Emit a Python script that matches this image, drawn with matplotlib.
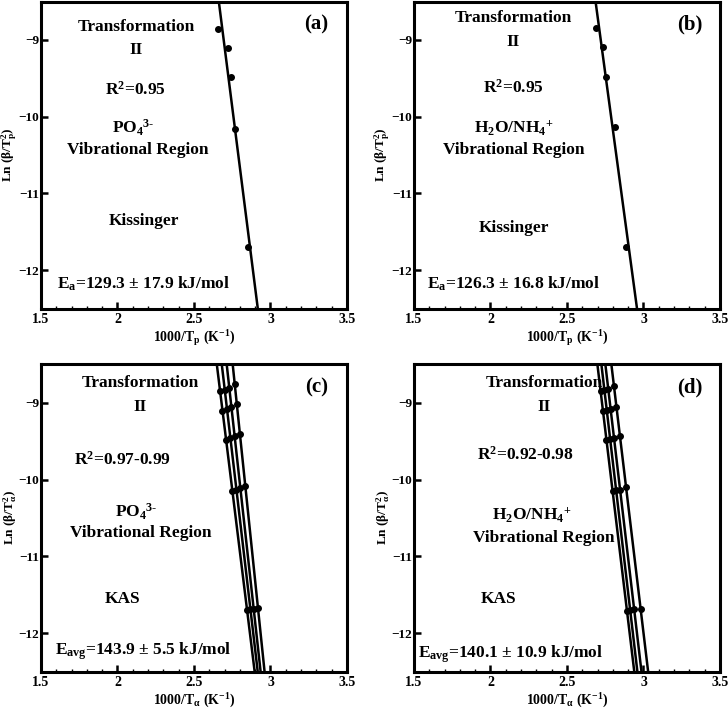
import numpy as np
import matplotlib.pyplot as plt

plt.rcParams['font.family'] = ['Liberation Serif', 'DejaVu Serif']
plt.rcParams['font.weight'] = 'bold'
plt.rcParams['mathtext.fontset'] = 'custom'
plt.rcParams['mathtext.rm'] = 'Liberation Serif:bold'
plt.rcParams['mathtext.it'] = 'Liberation Serif:bold'
plt.rcParams['mathtext.bf'] = 'Liberation Serif:bold'

# Kissinger data (1000/Tp, ln(beta/Tp^2))
kis_po4_x = [2.660, 2.720, 2.744, 2.770, 2.850]
kis_po4_y = [-8.86, -9.10, -9.48, -10.16, -11.70]
kis_h2o_x = [2.692, 2.738, 2.757, 2.816, 2.888]
kis_h2o_y = [-8.84, -9.09, -9.49, -10.14, -11.70]

# KAS data, one list per conversion
kas_po4_x = [[2.671, 2.686, 2.710, 2.751, 2.847],
             [2.701, 2.716, 2.738, 2.777, 2.869],
             [2.731, 2.744, 2.765, 2.803, 2.890],
             [2.766, 2.780, 2.800, 2.835, 2.918]]
kas_po4_y = [[-8.85, -9.10, -9.48, -10.15, -11.70],
             [-8.83, -9.08, -9.46, -10.13, -11.69],
             [-8.80, -9.05, -9.43, -10.11, -11.68],
             [-8.75, -9.02, -9.40, -10.08, -11.67]]
kas_h2o_x = [[2.719, 2.735, 2.758, 2.798, 2.892],
             [2.744, 2.760, 2.782, 2.821, 2.913],
             [2.770, 2.785, 2.807, 2.847, 2.939],
             [2.807, 2.823, 2.846, 2.886, 2.981]]
kas_h2o_y = [[-8.84, -9.10, -9.48, -10.15, -11.71],
             [-8.83, -9.09, -9.47, -10.14, -11.70],
             [-8.82, -9.08, -9.46, -10.13, -11.69],
             [-8.78, -9.05, -9.43, -10.10, -11.68]]

fig = plt.figure(figsize=(7.28, 7.11), dpi=100)
W, H = 728, 711


def make_ax(left, top):
    return fig.add_axes([left / W, 1 - (top + 307) / H, 306 / W, 307 / H])


ax_a = make_ax(41, 1.5)
ax_b = make_ax(414, 1.5)
ax_c = make_ax(41, 364.5)
ax_d = make_ax(414, 364.5)


def draw_fit(ax, xs, ys):
    ax.plot(xs, ys, 'o', color='black', ms=4)
    m, b = np.polyfit(xs, ys, 1)
    yy = np.array([-8.3, -12.7])
    ax.plot((yy - b) / m, yy, color='black', lw=1.8)


draw_fit(ax_a, kis_po4_x, kis_po4_y)
draw_fit(ax_b, kis_h2o_x, kis_h2o_y)
for xs, ys in zip(kas_po4_x, kas_po4_y):
    draw_fit(ax_c, xs, ys)
for xs, ys in zip(kas_h2o_x, kas_h2o_y):
    draw_fit(ax_d, xs, ys)

fs = 12.5
texts = {
    ax_a: [(2.12, -8.83, 'Transformation'), (2.12, -9.13, 'II'),
           (2.12, -9.65, 'R$^{2}$=0.95'), (2.10, -10.14, 'PO$_{4}$$^{3\u2010}$'),
           (2.13, -10.43, 'Vibrational Region'), (2.17, -11.36, 'Kissinger'),
           (2.17, -12.18, 'E$_{a}$=129.3 \u00b1 17.9 kJ/mol')],
    ax_b: [(2.15, -8.72, 'Transformation'), (2.15, -9.03, 'II'),
           (2.15, -9.62, 'R$^{2}$=0.95'), (2.15, -10.14, 'H$_{2}$O/NH$_{4}$$^{+}$'),
           (2.15, -10.43, 'Vibrational Region'), (2.15, -11.45, 'Kissinger'),
           (2.15, -12.18, 'E$_{a}$=126.3 \u00b1 16.8 kJ/mol')],
    ax_c: [(2.15, -8.74, 'Transformation'), (2.15, -9.05, 'II'),
           (2.03, -9.74, 'R$^{2}$=0.97-0.99'), (2.12, -10.42, 'PO$_{4}$$^{3\u2010}$'),
           (2.15, -10.69, 'Vibrational Region'), (2.03, -11.56, 'KAS'),
           (2.17, -12.24, 'E$_{avg}$=143.9 \u00b1 5.5 kJ/mol')],
    ax_d: [(2.35, -8.74, 'Transformation'), (2.35, -9.05, 'II'),
           (2.23, -9.68, 'R$^{2}$=0.92-0.98'), (2.27, -10.46, 'H$_{2}$O/NH$_{4}$$^{+}$'),
           (2.35, -10.76, 'Vibrational Region'), (2.05, -11.56, 'KAS'),
           (2.13, -12.28, 'E$_{avg}$=140.1 \u00b1 10.9 kJ/mol')],
}
labels = {ax_a: '(a)', ax_b: '(b)', ax_c: '(c)', ax_d: '(d)'}

for ax in [ax_a, ax_b, ax_c, ax_d]:
    ax.set_xlim(1.5, 3.5)
    ax.set_ylim(-12.5, -8.5)
    ax.set_xticks([1.5, 2, 2.5, 3, 3.5])
    ax.set_xticklabels(['1.5', '2', '2.5', '3', '3.5'])
    ax.set_xticks(np.arange(1.5, 3.51, 0.1), minor=True)
    ax.set_yticks([-9, -10, -11, -12])
    ax.tick_params(which='major', direction='in', length=5, width=1.8,
                   labelsize=10, top=False, right=False, pad=3)
    ax.tick_params(axis='y', pad=1.5, labelsize=9.5)
    ax.tick_params(which='minor', direction='in', length=2.5, width=1,
                   top=False, right=False)
    for s in ax.spines.values():
        s.set_linewidth(2.2)
    for x, y, t in texts[ax]:
        ax.text(x, y, t, ha='center', va='center', fontsize=fs, fontweight='bold')
    ax.text(3.30, -8.80, labels[ax], ha='center', va='center', fontsize=15,
            fontweight='bold')

for ax in [ax_a, ax_b]:
    ax.set_xlabel('1000/T$_{p}$ (K$^{-1}$)', fontsize=10, fontweight='bold', labelpad=2)
    ax.set_ylabel('Ln ($\\beta$/T$_{p}^{2}$)', fontsize=9.5, fontweight='bold')
for ax in [ax_c, ax_d]:
    ax.set_xlabel('1000/T$_{\\alpha}$ (K$^{-1}$)', fontsize=10, fontweight='bold', labelpad=2)
    ax.set_ylabel('Ln ($\\beta$/T$_{\\alpha}^{2}$)', fontsize=9.5, fontweight='bold')
for ax in [ax_a, ax_b, ax_c, ax_d]:
    ax.yaxis.set_label_coords(-0.072, 0.5)

fig.savefig('out.png', dpi=100)
